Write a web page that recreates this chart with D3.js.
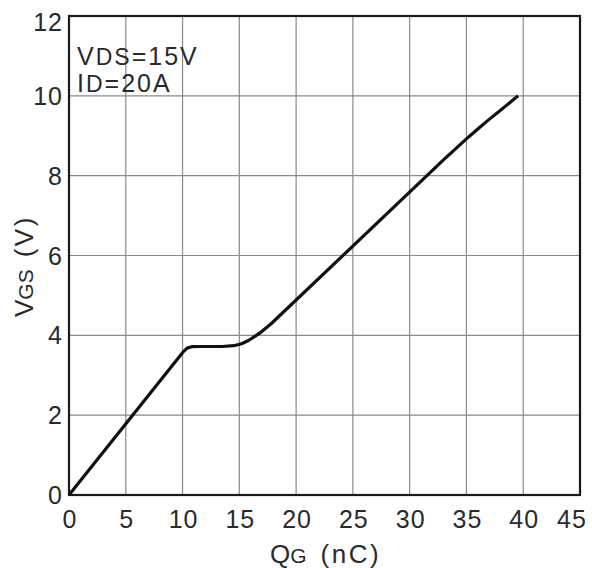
<!DOCTYPE html>
<html><head><meta charset="utf-8">
<script src="https://cdn.jsdelivr.net/npm/d3@7"></script>
<style>
html,body{margin:0;padding:0;background:#fff;}
svg{display:block;font-family:"Liberation Sans",Arial,sans-serif;}
</style></head>
<body>
<svg id="c" width="592" height="568"></svg>
<script>
// Gate charge curve: QG (nC) vs VGS (V)
const qg  = [0, 10.1, 10.4, 10.8, 11.5, 13.5, 14.5, 15.2, 15.8, 16.4, 17.0, 17.8, 33, 35, 36, 37, 38, 39.55];
const vgs = [0, 3.6, 3.68, 3.715, 3.72, 3.72, 3.74, 3.79, 3.87, 3.98, 4.1, 4.29, 8.4, 8.92, 9.17, 9.41, 9.64, 10.0];
const xTicks = [0, 5, 10, 15, 20, 25, 30, 35, 40, 45];
const yTicks = [0, 2, 4, 6, 8, 10, 12];
const annot = [["V", "DS", "=15V"], ["I", "D", "=20A"]];

const svg = d3.select("#c");
const L = 69, R = 580, T = 16, B = 495;
const x = d3.scaleLinear().domain([0, 45]).range([L, R]);
const y = d3.scaleLinear().domain([0, 12]).range([B, T]);
const txt = "#2a2a2a";

// grid
svg.append("g").selectAll("line").data(xTicks.slice(1, -1)).join("line")
  .attr("x1", d => x(d)).attr("x2", d => x(d)).attr("y1", T).attr("y2", B)
  .attr("stroke", "#8a8a8a").attr("stroke-width", 1.2);
svg.append("g").selectAll("line").data(yTicks.slice(1, -1)).join("line")
  .attr("y1", d => y(d)).attr("y2", d => y(d)).attr("x1", L).attr("x2", R)
  .attr("stroke", "#8a8a8a").attr("stroke-width", 1.2);

// frame
svg.append("rect").attr("x", L).attr("y", T).attr("width", R - L).attr("height", B - T)
  .attr("fill", "none").attr("stroke", "#1a1a1a").attr("stroke-width", 2.2);

// x tick labels
svg.append("g").selectAll("text").data(xTicks).join("text")
  .attr("x", d => x(d) + (d === 45 ? -8 : 1))
  .attr("y", 528).attr("text-anchor", "middle").attr("letter-spacing", 1)
  .attr("font-size", 25).attr("fill", txt).text(d => d);

// y tick labels
svg.append("g").selectAll("text").data(yTicks).join("text")
  .attr("x", 63).attr("y", d => y(d) + (d === 12 ? 6 : 0))
  .attr("dy", "0.36em").attr("text-anchor", "end").attr("letter-spacing", 1)
  .attr("font-size", 25).attr("fill", txt).text(d => d);

// axis titles
const xt = svg.append("text").attr("x", 270).attr("y", 563)
  .attr("font-size", 26).attr("fill", txt);
xt.append("tspan").text("Q");
xt.append("tspan").attr("font-size", 21).text("G");
xt.append("tspan").attr("font-size", 26).attr("dx", 14).attr("letter-spacing", 2.5).text("(nC)");

const yt = svg.append("text").attr("transform", "translate(33,317) rotate(-90)")
  .attr("font-size", 26).attr("fill", txt);
yt.append("tspan").text("V");
yt.append("tspan").attr("font-size", 21).text("GS");
yt.append("tspan").attr("font-size", 26).attr("dx", 12).attr("letter-spacing", 2.5).text("(V)");

// annotation
annot.forEach((a, i) => {
  const t = svg.append("text").attr("x", 77).attr("y", 65 + i * 27)
    .attr("font-size", 25).attr("fill", txt).attr("letter-spacing", 2);
  t.append("tspan").text(a[0]);
  t.append("tspan").attr("font-size", 23).text(a[1]);
  t.append("tspan").attr("font-size", 25).text(a[2]);
});

// curve
const pts = qg.map((q, i) => [q, vgs[i]]);
svg.append("path").datum(pts)
  .attr("d", d3.line().x(d => x(d[0])).y(d => y(d[1])).curve(d3.curveLinear))
  .attr("fill", "none").attr("stroke", "#111").attr("stroke-width", 3.2)
  .attr("stroke-linejoin", "round");
</script>
</body></html>
